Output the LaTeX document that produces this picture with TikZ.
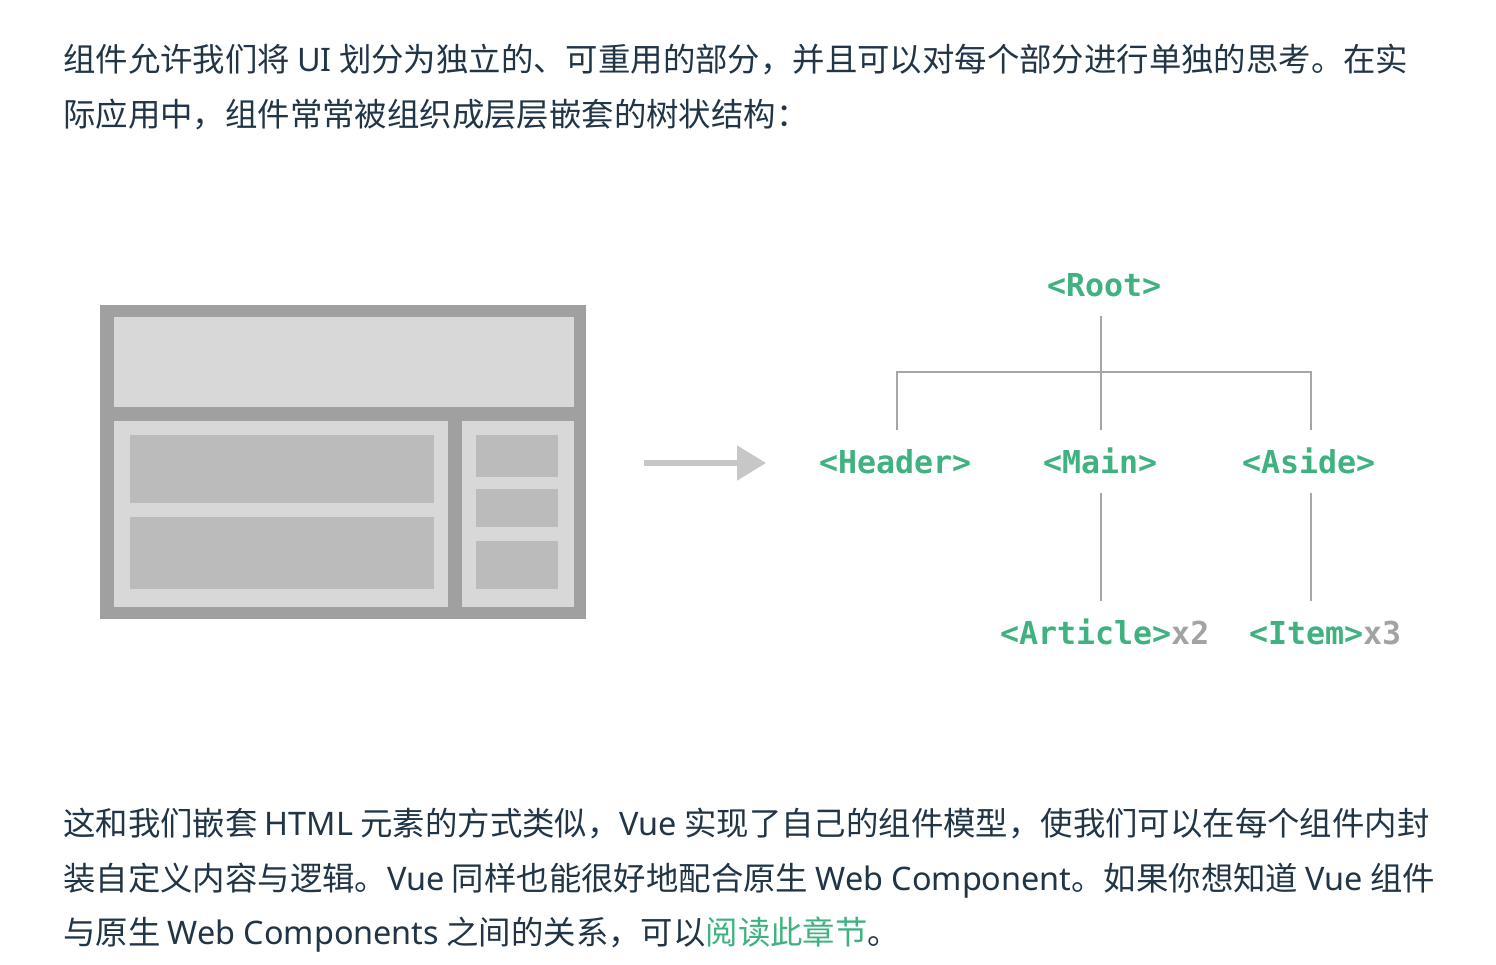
\documentclass[tikz,border=0pt]{standalone}
\usepackage{fontspec}
\setmainfont{Noto Sans CJK SC}
\newfontfamily\lat{Noto Sans}
\newfontfamily\mono{DejaVu Sans Mono}
\usetikzlibrary{arrows.meta}
\definecolor{ink}{HTML}{213547}
\definecolor{vgreen}{HTML}{3FB27F}
\definecolor{tgray}{HTML}{A3A3A3}
\definecolor{treegray}{HTML}{A6A6A6}
\definecolor{dk}{HTML}{A0A0A0}
\definecolor{lt}{HTML}{D8D8D8}
\definecolor{md}{HTML}{BBBBBB}
\definecolor{arrowgray}{HTML}{C7C7C7}
\begin{document}
\begin{tikzpicture}[x=1pt,y=-1pt,
  txt/.style={anchor=base west, inner sep=0pt, text=ink, font=\fontsize{32.4}{32.4}\selectfont},
  tag/.style={anchor=base west, inner sep=0pt, outer xsep=0pt, outer ysep=20pt,
    text height=23pt, text depth=0pt, text=vgreen, font=\mono\bfseries\fontsize{31.6}{31.6}\selectfont},
  tree/.style={draw=treegray, line width=2pt},
  blk/.style={inner sep=0pt, anchor=north west}]
\fill[white] (0,0) rectangle (1496,964);
\useasboundingbox (0,0) rectangle (1496,964);

% paragraph text
\node[txt] (p1) at (63,71) {组件允许我们将 {\lat UI} 划分为独立的、可重用的部分，并且可以对每个部分进行单独的思考。在实};
\node[txt] (p2) at (63,126) {际应用中，组件常常被组织成层层嵌套的树状结构：};
\node[txt] (p3) at (63,835) {这和我们嵌套 {\lat HTML} 元素的方式类似，{\lat Vue} 实现了自己的组件模型，使我们可以在每个组件内封};
\node[txt] (p4) at (63,890) {装自定义内容与逻辑。{\lat Vue} 同样也能很好地配合原生 {\lat Web Component}。如果你想知道 {\lat Vue} 组件};
\node[txt] (p5) at (63,944) {与原生 {\lat Web Components} 之间的关系，可以\textcolor{vgreen}{阅读此章节}。};

% page layout sketch
\node[blk, fill=dk, minimum width=486pt, minimum height=314pt] (page) at (100,305) {};
\fill[lt] (114,317) rectangle (574,407);
\fill[lt] (114,421) rectangle (448,607);
\fill[lt] (462,421) rectangle (574,607);
\fill[md] (130,435) rectangle (434,503);
\fill[md] (130,517) rectangle (434,589);
\fill[md] (476,435) rectangle (558,477);
\fill[md] (476,489) rectangle (558,527);
\fill[md] (476,541) rectangle (558,589);

% arrow
\coordinate (a1) at (644,463);
\coordinate (a2) at (766,463);
\draw[arrowgray, line width=5.3pt, -{Triangle[length=29pt,width=34pt]}] (a1) -- (a2);

% tree labels
\node[tag] (root) at (1047,296) {<Root>};
\node[tag] (header) at (819,473) {<Header>};
\node[tag] (main) at (1043,473) {<Main>};
\node[tag] (aside) at (1242,473) {<Aside>};
\node[tag] (article) at (1000,644) {<Article>\textcolor{tgray}{x2}};
\node[tag] (item) at (1249,644) {<Item>\textcolor{tgray}{x3}};

% tree connectors
\coordinate (j) at (1101,372);
\coordinate (jl) at (897,372);
\coordinate (jr) at (1311,372);
\draw[tree] (root.south -| j) -- (j);
\draw[tree] (header.north -| jl) -- (jl) -- (jr) -- (aside.north -| jr);
\draw[tree] (j) -- (main.north -| j);
\draw[tree] (main.south -| j) -- (article.north -| j);
\draw[tree] (aside.south -| jr) -- (item.north -| jr);
\end{tikzpicture}
\end{document}
